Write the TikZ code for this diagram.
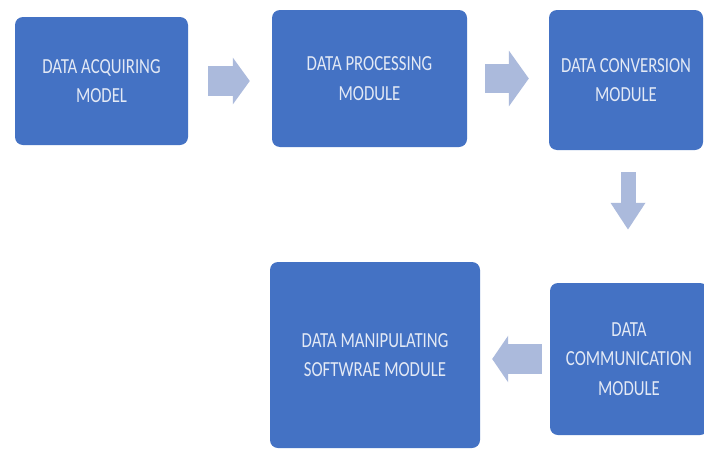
\documentclass[tikz,border=0pt]{standalone}
\usepackage{fontspec}
\newfontfamily\boxfont[FakeStretch=0.78]{Carlito}
\usetikzlibrary{arrows.meta}
\definecolor{boxblue}{HTML}{4472C4}
\definecolor{arrowblue}{HTML}{ABBADC}
\definecolor{boxtext}{HTML}{E3E9F5}
\tikzset{
  modbox/.style={fill=boxblue, rounded corners=8pt, inner sep=0pt, align=center,
    text=boxtext, font=\boxfont\fontsize{21.5}{29.5}\selectfont},
  blockarrow/.style={draw=arrowblue, line width=#1},
}
\begin{document}
\begin{tikzpicture}[x=1pt,y=-1pt]
\useasboundingbox[fill=white] (0,0) rectangle (704,450);
\node[modbox, minimum width=173pt, minimum height=128pt] (b1) at (101.5,81) {DATA ACQUIRING\\MODEL};
\node[modbox, minimum width=195pt, minimum height=137pt] (b2) at (369.5,78.5) {DATA PROCESSING\\MODULE};
\node[modbox, minimum width=154pt, minimum height=140pt] (b3) at (626,80) {DATA CONVERSION\\MODULE};
\node[modbox, minimum width=158pt, minimum height=152pt] (b5) at (629,359) {DATA\\COMMUNICATION\\MODULE};
\node[modbox, minimum width=210pt, minimum height=186pt] (b4) at (375,355) {DATA MANIPULATING\\SOFTWRAE MODULE};
\draw[blockarrow=30pt, shorten <=20pt, shorten >=22pt, -{Triangle[length=17pt,width=46pt]}]
  (b1.east) -- (b1.east -| b2.west);
\draw[blockarrow=29pt, shorten <=18pt, shorten >=20pt, -{Triangle[length=20pt,width=55pt]}]
  (b2.east) -- (b2.east -| b3.west);
\draw[blockarrow=15pt, shorten <=22pt, shorten >=53pt, -{Triangle[length=27pt,width=33pt]}]
  ([xshift=2pt]b3.south) -- ([xshift=2pt]b3.south |- b5.north);
\draw[blockarrow=30pt, shorten <=8pt, shorten >=12pt, -{Triangle[length=16pt,width=46pt]}]
  (b5.west) -- (b5.west -| b4.east);
\end{tikzpicture}
\end{document}
